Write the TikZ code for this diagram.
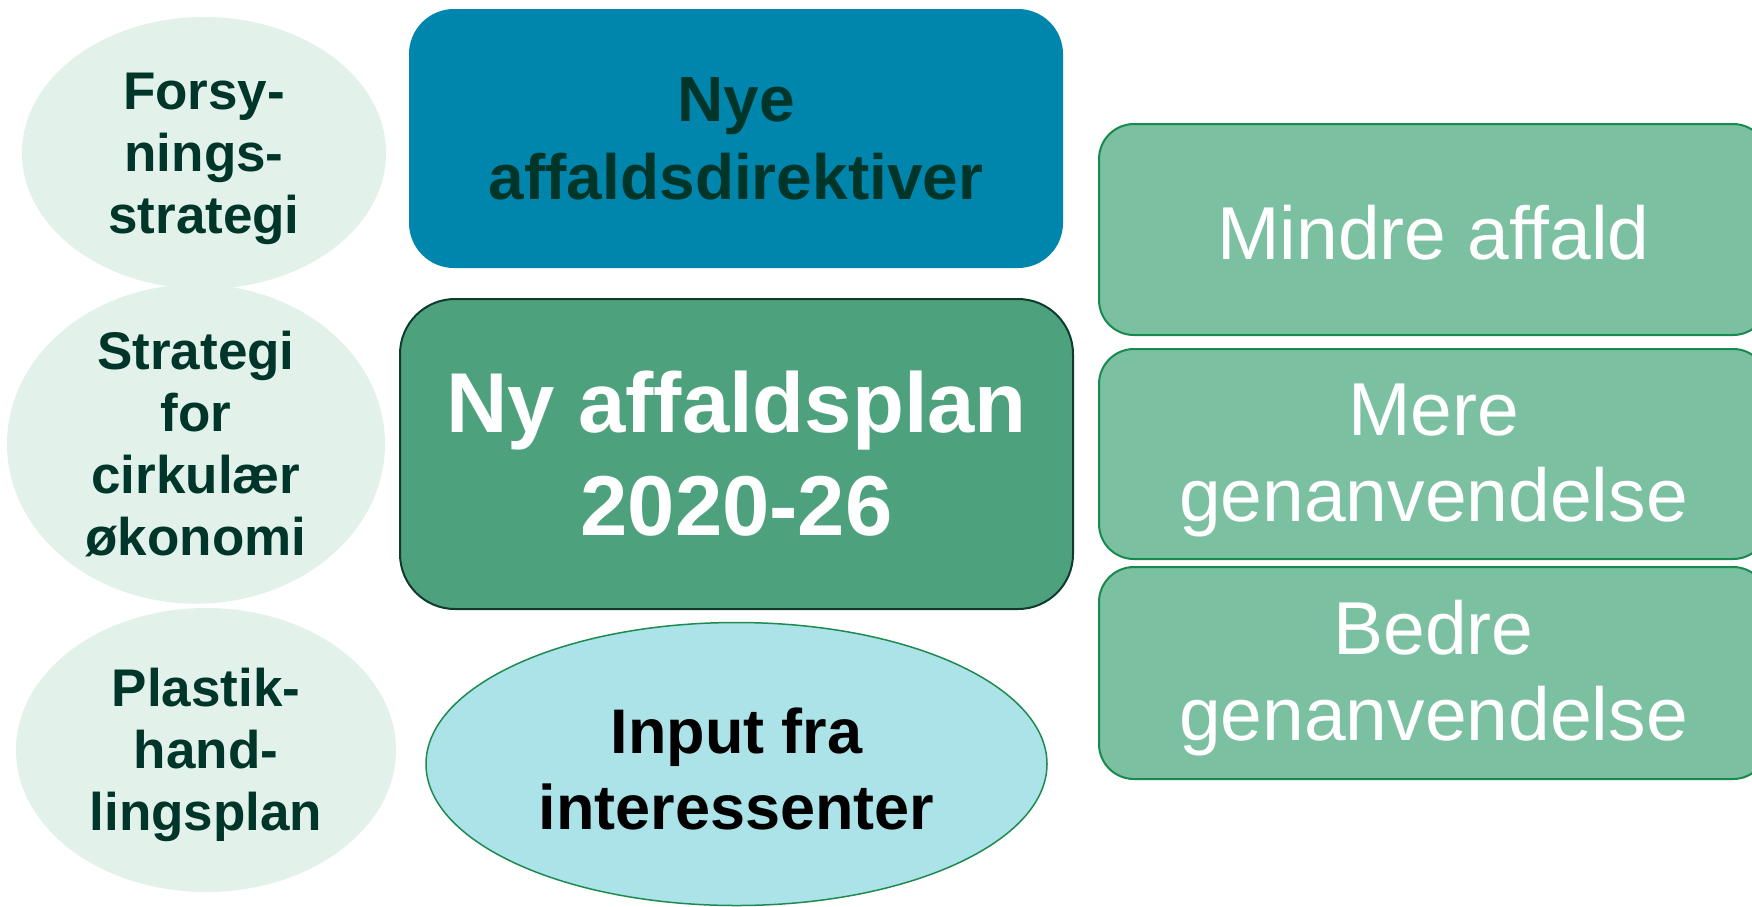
\documentclass[tikz,border=0pt]{standalone}
\usepackage{fontspec}
\setmainfont{Liberation Sans}
\usetikzlibrary{shapes.geometric}
\definecolor{lightmint}{HTML}{E2F2EB}
\definecolor{darkgreentext}{HTML}{00352A}
\definecolor{bluebox}{HTML}{0086AD}
\definecolor{greenbox}{HTML}{4DA27D}
\definecolor{greenborder}{HTML}{0F3B2E}
\definecolor{cyanfill}{HTML}{ABE3E8}
\definecolor{cyanborder}{HTML}{1E8A4F}
\definecolor{rightfill}{HTML}{7BC0A0}
\definecolor{rightborder}{HTML}{188A4E}
\newcommand\tallline[1]{\rule{0pt}{#1}}
\tikzset{
  sideellipse/.style={ellipse, fill=lightmint, inner sep=0pt, align=center,
    text=darkgreentext, font=\bfseries\fontsize{53}{62}\selectfont},
  topbox/.style={rectangle, rounded corners=45pt, fill=bluebox, inner sep=0pt,
    align=center, text=darkgreentext, font=\bfseries\fontsize{64}{78}\selectfont},
  planbox/.style={rectangle, rounded corners=55pt, fill=greenbox, draw=greenborder,
    line width=2pt, inner sep=0pt, align=center, text=white,
    font=\bfseries\fontsize{85}{103}\selectfont},
  inputellipse/.style={ellipse, fill=cyanfill, draw=cyanborder, line width=1.5pt,
    inner sep=0pt, align=center, text=black, font=\bfseries\fontsize{63}{76}\selectfont},
  goalbox/.style={rectangle, rounded corners=35pt, fill=rightfill, draw=rightborder,
    line width=2pt, inner sep=0pt, align=center, text=white,
    font=\fontsize{75}{86}\selectfont, minimum width=669pt}
}
\begin{document}
\begin{tikzpicture}[x=1pt,y=-1pt]
\useasboundingbox (0,0) rectangle (1752,906);
% left ellipses
\node[sideellipse, minimum width=364pt, minimum height=272pt] (forsyning) at (204,153)
  {\tallline{49pt}Forsy-\\nings-\\strategi};
\node[sideellipse, minimum width=378pt, minimum height=298pt] (cirkulaer) at (196,444)
  {Strategi\\for\\cirkulær\\økonomi};
\node[sideellipse, minimum width=380pt, minimum height=284pt] (plastik) at (206,750)
  {\tallline{49pt}Plastik-\\hand-\\lingsplan};
% centre column
\node[topbox, minimum width=654pt, minimum height=259pt] (direktiver) at (736,138.5)
  {Nye\\affaldsdirektiver};
\node[planbox, minimum width=673pt, minimum height=310pt] (plan) at (736.5,454)
  {Ny affaldsplan\\2020-26};
\node[inputellipse, minimum width=621pt, minimum height=283pt] (input) at (736.5,764)
  {\tallline{55pt}Input fra\\interessenter};
% right column
\node[goalbox, minimum height=211pt] (mindre) at (1433.5,229.5) {\tallline{60pt}Mindre affald};
\node[goalbox, minimum height=210pt] (mere) at (1433.5,454) {\tallline{64pt}Mere\\genanvendelse};
\node[goalbox, minimum height=212pt] (bedre) at (1433.5,673) {\tallline{64pt}Bedre\\genanvendelse};
\end{tikzpicture}
\end{document}
